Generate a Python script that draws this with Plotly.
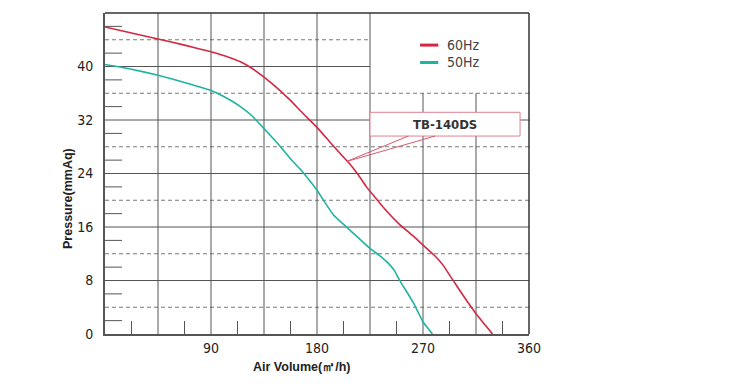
import plotly.graph_objects as go

# ---- data ----
hz60_x = [0, 22.5, 45, 67.5, 90, 105, 115, 125, 135, 146, 157, 168, 180, 190, 197, 207, 215, 222, 229, 237, 250, 262, 270, 280, 287, 293, 299, 307, 316, 323, 329]
hz60_y = [45.9, 45.0, 44.1, 43.2, 42.2, 41.4, 40.7, 39.7, 38.4, 36.8, 35.0, 33.0, 30.9, 28.9, 27.5, 25.6, 23.8, 22.0, 20.5, 18.8, 16.4, 14.6, 13.3, 11.7, 10.3, 8.7, 7.1, 5.0, 2.8, 1.3, 0]

hz50_x = [0, 22.5, 45, 67.5, 90, 100, 108, 115, 125, 134, 143, 151, 158, 166, 173, 180, 187, 194, 205, 215, 225, 234, 242, 246, 249, 253, 258, 262, 266, 270, 274, 278]
hz50_y = [40.3, 39.6, 38.7, 37.6, 36.4, 35.6, 34.8, 34.0, 32.6, 30.9, 29.2, 27.6, 26.1, 24.6, 23.1, 21.5, 19.6, 17.8, 16.0, 14.4, 12.8, 11.6, 10.3, 9.4, 8.4, 7.2, 5.8, 4.6, 3.2, 1.8, 0.9, 0]

x_ticks = [90, 180, 270, 360]
y_ticks = [0, 8, 16, 24, 32, 40]
series_names = ["60Hz", "50Hz"]
model_label = "TB-140DS"
x_title = "Air Volume(㎥/h)"
y_title = "Pressure(mmAq)"

RED = "#d22842"
TEAL = "#1fb3a1"
GRID = "#555555"
DASH = "#7a7a7a"
FONT = "Liberation Sans Narrow, Arial Narrow, DejaVu Sans Condensed, sans-serif"
TFONT = "Liberation Sans, Arial, sans-serif"

fig = go.Figure()
fig.add_trace(go.Scatter(x=hz60_x, y=hz60_y, mode="lines", name=series_names[0],
                         line=dict(color=RED, width=1.6, shape="spline", smoothing=0.3)))
fig.add_trace(go.Scatter(x=hz50_x, y=hz50_y, mode="lines", name=series_names[1],
                         line=dict(color=TEAL, width=1.6, shape="spline", smoothing=0.3)))

shapes = []
# horizontal solid grid lines
for v in [8, 16, 24, 32]:
    shapes.append(dict(type="line", xref="x", yref="y", x0=0, x1=360, y0=v, y1=v,
                       line=dict(color=GRID, width=1), layer="below"))
shapes.append(dict(type="line", xref="x", yref="y", x0=0, x1=225, y0=40, y1=40,
                   line=dict(color=GRID, width=1), layer="below"))
# dashed grid lines
for v in [4, 12, 20, 28, 36]:
    shapes.append(dict(type="line", xref="x", yref="y", x0=0, x1=360, y0=v, y1=v,
                       line=dict(color=DASH, width=1, dash="4px,3px"), layer="below"))
shapes.append(dict(type="line", xref="x", yref="y", x0=0, x1=225, y0=44, y1=44,
                   line=dict(color=DASH, width=1, dash="4px,3px"), layer="below"))
# vertical grid lines
for v in [45, 90, 135, 180, 225]:
    shapes.append(dict(type="line", xref="x", yref="y", x0=v, x1=v, y0=0, y1=48,
                       line=dict(color=GRID, width=1), layer="below"))
for v in [270, 315]:
    shapes.append(dict(type="line", xref="x", yref="y", x0=v, x1=v, y0=0, y1=36,
                       line=dict(color=GRID, width=1), layer="below"))
# minor ticks on y axis (inside)
for v in range(2, 48, 4):
    shapes.append(dict(type="line", xref="x", yref="y", xsizemode="pixel", xanchor=0,
                       x0=0, x1=17, y0=v, y1=v, line=dict(color=GRID, width=1), layer="below"))
# minor ticks on x axis (inside)
for k in range(8):
    v = 22.5 + 45 * k
    shapes.append(dict(type="line", xref="x", yref="y", ysizemode="pixel", yanchor=0,
                       x0=v, x1=v, y0=0, y1=13, line=dict(color=GRID, width=1), layer="below"))
# top/right frame
shapes.append(dict(type="line", xref="paper", yref="paper", x0=0, x1=1, y0=1, y1=1,
                   line=dict(color="#333333", width=1.5)))
shapes.append(dict(type="line", xref="paper", yref="paper", x0=1, x1=1, y0=0, y1=1,
                   line=dict(color="#333333", width=1.5)))
# callout box and pointer
shapes.append(dict(type="rect", xref="x", yref="y", x0=225, x1=352.4, y0=29.6, y1=33.15,
                   fillcolor="white", line=dict(color="#e0808f", width=1), layer="above"))
shapes.append(dict(type="path", xref="x", yref="y",
                   path="M 257.5,29.6 L 205.2,25.8 L 280.2,29.6",
                   line=dict(color="#d8596d", width=1), layer="above"))
# legend lines
shapes.append(dict(type="line", xref="x", yref="y", x0=267.5, x1=283, y0=43.2, y1=43.2,
                   line=dict(color=RED, width=3)))
shapes.append(dict(type="line", xref="x", yref="y", x0=267.5, x1=283, y0=40.6, y1=40.6,
                   line=dict(color=TEAL, width=3)))

annotations = [
    dict(x=289, y=43.2, xref="x", yref="y", text=series_names[0], showarrow=False,
         xanchor="left", yanchor="middle", font=dict(family=FONT, size=14, color="#444")),
    dict(x=289, y=40.6, xref="x", yref="y", text=series_names[1], showarrow=False,
         xanchor="left", yanchor="middle", font=dict(family=FONT, size=14, color="#444")),
    dict(x=288.7, y=31.4, xref="x", yref="y", text="<b>" + model_label + "</b>", showarrow=False,
         xanchor="center", yanchor="middle", font=dict(family=FONT, size=13, color="#333")),
    dict(x=0.464, y=-0.1028, xref="paper", yref="paper", text="<b>" + x_title + "</b>",
         showarrow=False, xanchor="center", yanchor="middle",
         font=dict(family=TFONT, size=12.5, color="#222")),
    dict(x=-0.0873, y=0.4237, xref="paper", yref="paper", text="<b>" + y_title + "</b>",
         showarrow=False, xanchor="center", yanchor="middle", textangle=-90,
         font=dict(family=TFONT, size=12.5, color="#222")),
]

fig.update_layout(
    width=753, height=389,
    margin=dict(l=105, r=224, t=13, b=55),
    paper_bgcolor="white", plot_bgcolor="white",
    showlegend=False,
    shapes=shapes, annotations=annotations,
    xaxis=dict(range=[0, 360], tickvals=x_ticks, ticktext=[str(v) for v in x_ticks],
               showgrid=False, zeroline=False, showline=True, linecolor="#555", linewidth=2,
               ticks="", ticklabelstandoff=0,
               tickfont=dict(family=FONT, size=14, color="#222")),
    yaxis=dict(range=[0, 48], tickvals=y_ticks, ticktext=[str(v) for v in y_ticks],
               showgrid=False, zeroline=False, showline=True, linecolor="#555", linewidth=2,
               ticks="", ticklabelstandoff=7,
               tickfont=dict(family=FONT, size=14, color="#222")),
)

fig.write_html("out.html", config={"displayModeBar": False},
               post_script="document.body.style.margin='0';document.body.style.overflow='hidden';")
